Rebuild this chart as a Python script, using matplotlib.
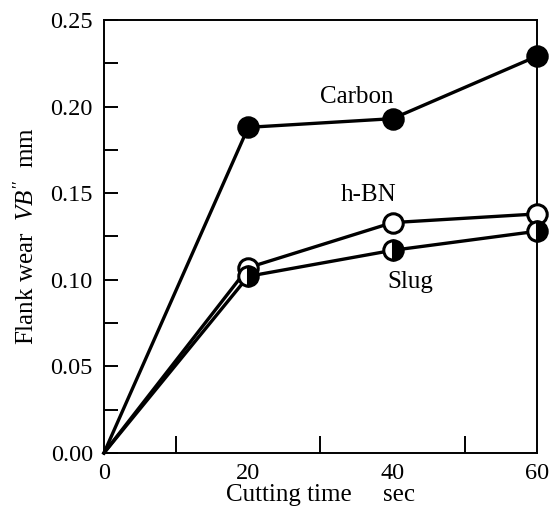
import matplotlib
matplotlib.use("Agg")
import matplotlib.pyplot as plt
from matplotlib.ticker import MultipleLocator

plt.rcParams['font.family'] = ['Liberation Serif', 'DejaVu Serif']
plt.rcParams['mathtext.fontset'] = 'custom'
plt.rcParams['mathtext.it'] = 'Liberation Serif:italic'
plt.rcParams['mathtext.rm'] = 'Liberation Serif'

# Data
time_sec = [0, 20, 40, 60]
carbon = [0.0, 0.188, 0.193, 0.229]
hbn = [0.0, 0.107, 0.133, 0.138]
slug = [0.0, 0.102, 0.117, 0.128]

fig = plt.figure(figsize=(5.5, 5.11), dpi=100)
ax = fig.add_axes([0.189, 0.1135, 0.787, 0.8475])

lw = 2.4
ms = 14
ax.plot(time_sec, hbn, color='black', lw=lw, zorder=3, clip_on=False)
ax.plot(time_sec, slug, color='black', lw=lw, zorder=3, clip_on=False)
ax.plot(time_sec, carbon, color='black', lw=lw, zorder=3, clip_on=False)

# markers (skip origin)
ax.plot(time_sec[1:], hbn[1:], 'o', ms=ms, mfc='white', mec='black',
        mew=2.2, zorder=4, clip_on=False)
ax.plot(time_sec[1:], slug[1:], 'o', ms=ms, fillstyle='right', mfc='black',
        markerfacecoloralt='white', mec='black', mew=2.2, zorder=5, clip_on=False)
ax.plot(time_sec[1:], carbon[1:], 'o', ms=ms, mfc='black', mec='black',
        mew=2.2, zorder=4, clip_on=False)

ax.text(35.1, 0.2055, 'Carbon', fontsize=18, ha='center', va='center')
ax.text(36.7, 0.149, 'h-BN', fontsize=18, ha='center', va='center')
ax.text(42.5, 0.099, 'Slug', fontsize=18, ha='center', va='center')

ax.set_xlim(0, 60)
ax.set_ylim(0, 0.25)
ax.set_xticks([0, 20, 40, 60])
ax.xaxis.set_minor_locator(MultipleLocator(10))
ax.set_yticks([0.0, 0.05, 0.10, 0.15, 0.20, 0.25])
ax.set_yticklabels(['0.00', '0.05', '0.10', '0.15', '0.20', '0.25'])
ax.yaxis.set_minor_locator(MultipleLocator(0.025))
ax.tick_params(which='both', direction='in', top=False, right=False,
               labelsize=17.5, width=1.4)
ax.tick_params(which='major', length=10, pad=8)
ax.tick_params(which='minor', length=10)
ax.tick_params(axis='x', which='major', length=0, pad=7)
ax.tick_params(axis='x', which='minor', length=12)
for s in ax.spines.values():
    s.set_linewidth(1.4)

ax.set_xlabel('Cutting time     sec', fontsize=18, labelpad=0)
ax.set_ylabel(r"Flank wear  $VB''$  mm", fontsize=18, labelpad=8)

fig.savefig('out.png', dpi=100)
